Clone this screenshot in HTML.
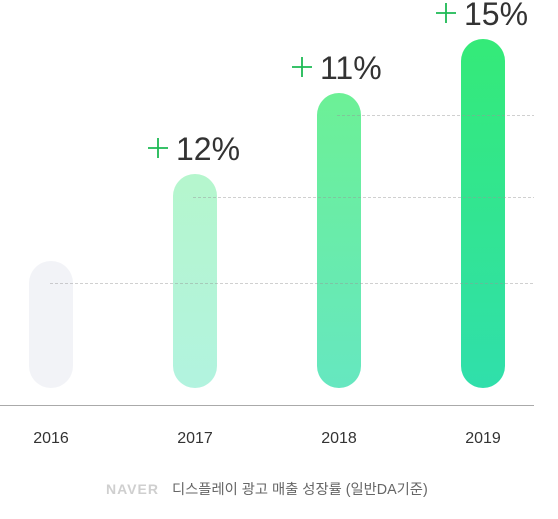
<!DOCTYPE html>
<html><head><meta charset="utf-8"><style>
html,body{margin:0;padding:0;background:#fff;width:558px;height:519px;overflow:hidden}
svg{display:block}
</style></head><body>
<svg id="chart" width="558" height="519">
<defs>
<linearGradient id="g0" x1="0" y1="0" x2="0" y2="1"><stop offset="0" stop-color="#f2f3f7"/><stop offset="1" stop-color="#f2f3f7"/></linearGradient>
<linearGradient id="g1" x1="0" y1="0" x2="0" y2="1"><stop offset="0" stop-color="#b5f6cd"/><stop offset="1" stop-color="#b2f3df"/></linearGradient>
<linearGradient id="g2" x1="0" y1="0" x2="0" y2="1"><stop offset="0" stop-color="#6cf096"/><stop offset="1" stop-color="#66e7c0"/></linearGradient>
<linearGradient id="g3" x1="0" y1="0" x2="0" y2="1"><stop offset="0" stop-color="#34ea78"/><stop offset="1" stop-color="#30dfab"/></linearGradient>
</defs>
<g id="bars"></g>
<g id="grid"></g>
<g id="labels"></g>
<line x1="0" y1="405.5" x2="534" y2="405.5" stroke="#aaa" stroke-width="1"/>
<text x="106" y="494" font-family="'Liberation Sans',sans-serif" font-weight="bold" font-size="14" fill="#cfcfcf" letter-spacing="1">NAVER</text>
<text x="172" y="494" font-family="'Liberation Sans','Noto Sans CJK KR',sans-serif" font-size="14.3" fill="#666">디스플레이 광고 매출 성장률 (일반DA기준)</text>
</svg>
<script>
const categories = ["2016","2017","2018","2019"];
const values = [127,214,295,349];
const growthLabels = ["","12%","11%","15%"];
const gridValues = [105,191,273];

const NS="http://www.w3.org/2000/svg";
const base=388, barW=44;
function y(v){return base - v;}
function xc(i){return 51 + i*144;}
const bars=document.getElementById('bars'), grid=document.getElementById('grid'), labels=document.getElementById('labels');
const gridStart=[50,193,337];
gridValues.forEach((v,i)=>{
  const l=document.createElementNS(NS,'line');
  l.setAttribute('x1',gridStart[i]);l.setAttribute('x2',534);
  l.setAttribute('y1',y(v)+0.5);l.setAttribute('y2',y(v)+0.5);
  l.setAttribute('stroke','rgba(150,150,150,0.45)');l.setAttribute('stroke-dasharray','3 2');
  
  
  grid.appendChild(l);
});
categories.forEach((c,i)=>{
  const h=values[i], top=y(h);
  const p=document.createElementNS(NS,'path');
  const x0=xc(i)-barW/2, r=barW/2;
  p.setAttribute('d',`M${x0},${base-r} L${x0},${top+r} A${r},${r} 0 0 1 ${x0+barW},${top+r} L${x0+barW},${base-r} A${r},${r} 0 0 1 ${x0},${base-r} Z`);
  p.setAttribute('fill',`url(#g${i})`);
  
  
  bars.appendChild(p);
  const t=document.createElementNS(NS,'text');
  t.setAttribute('x',xc(i));t.setAttribute('y',443);t.setAttribute('text-anchor','middle');
  t.setAttribute('font-family',"'Liberation Sans',sans-serif");t.setAttribute('font-size','16');t.setAttribute('fill','#333');
  t.textContent=c;
  
  
  labels.appendChild(t);
  if(growthLabels[i]){
    const g=document.createElementNS(NS,'g');
    
    
    const cy=top-26, px=xc(i)-37;
    const pl=document.createElementNS(NS,'path');
    pl.setAttribute('d',`M${px-10},${cy} H${px+10} M${px},${cy-10} V${cy+10}`);
    pl.setAttribute('stroke','#1db954');pl.setAttribute('stroke-width','1.8');
    g.appendChild(pl);
    const tt=document.createElementNS(NS,'text');
    tt.setAttribute('x',xc(i)-19);tt.setAttribute('y',cy+12);
    tt.setAttribute('font-family',"'Liberation Sans',sans-serif");tt.setAttribute('font-size','32');tt.setAttribute('fill','#333');
    tt.textContent=growthLabels[i];
    g.appendChild(tt);
    labels.appendChild(g);
  }
});
</script>
</body></html>
